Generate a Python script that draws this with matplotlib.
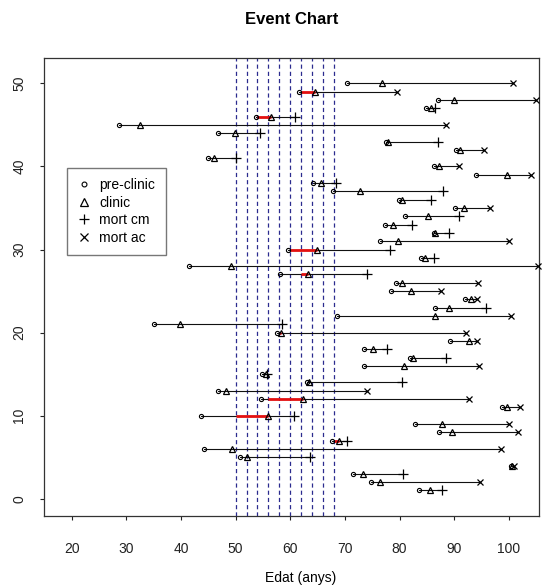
import numpy as np
import matplotlib
matplotlib.use('Agg')
import matplotlib.pyplot as plt
from matplotlib.lines import Line2D

plt.rcParams['font.family'] = ['Liberation Sans', 'DejaVu Sans']
plt.rcParams['lines.scale_dashes'] = False

# Subjects (one per row)
subject = np.arange(1, 51)

# Age at start of pre-clinic phase
pre_clinic = [83.6, 74.7, 71.4, 100.3, 50.8, 44.2, 67.7, 87.2, 82.9, 43.7,
              98.8, 54.6, 46.8, 63.0, 54.9, 73.5, 81.9, 73.5, 89.2, 57.5,
              35.0, 68.6, 86.5, 91.9, 78.5, 79.3, 58.2, 41.5, 84.0, 59.6,
              76.4, 86.2, 77.4, 81.0, 90.2, 79.9, 67.9, 64.1, 93.9, 86.3,
              45.0, 90.4, 77.5, 46.7, 28.6, 53.7, 84.9, 87.0, 61.6, 70.4]

# Age at clinical diagnosis
clinic = [85.5, 76.4, 73.3, 100.6, 52.0, 49.4, 68.9, 89.6, 87.7, 56.0,
          99.7, 62.3, 48.2, 63.5, 55.5, 80.8, 82.4, 75.1, 92.7, 58.3,
          39.8, 86.4, 89.1, 93.0, 82.1, 80.5, 63.2, 49.2, 84.6, 64.8,
          79.7, 86.4, 78.8, 85.2, 91.8, 80.5, 72.7, 65.6, 99.7, 87.2,
          46.1, 91.1, 77.9, 49.9, 32.5, 56.5, 85.8, 89.9, 64.6, 76.7]

# Age at death and cause ('cm' = cancer, 'ac' = other causes)
death = [87.8, 94.7, 80.7, 100.9, 63.6, 98.6, 70.4, 101.7, 100.0, 60.6,
         102.0, 92.7, 74.0, 80.5, 55.8, 94.5, 88.5, 77.7, 94.1, 92.1,
         58.5, 100.3, 95.8, 94.1, 87.5, 94.4, 74.1, 105.3, 86.3, 78.3,
         100.0, 89.1, 82.2, 90.9, 96.5, 85.7, 88.0, 68.4, 104.1, 90.8,
         50.1, 95.4, 87.1, 54.5, 88.5, 60.9, 86.5, 105.0, 79.6, 100.8]
cause = ['cm', 'ac', 'cm', 'ac', 'cm', 'ac', 'cm', 'ac', 'ac', 'cm',
         'ac', 'ac', 'ac', 'cm', 'cm', 'ac', 'cm', 'cm', 'ac', 'ac',
         'cm', 'ac', 'cm', 'ac', 'ac', 'ac', 'cm', 'ac', 'cm', 'cm',
         'ac', 'cm', 'cm', 'cm', 'ac', 'cm', 'cm', 'cm', 'ac', 'ac',
         'cm', 'ac', 'cm', 'cm', 'ac', 'cm', 'cm', 'ac', 'ac', 'ac']

# Missed screening intervals (red)
miss_subject = [7, 10, 12, 20, 27, 30, 46, 49]
miss_start = [68.0, 50.0, 56.0, 58.0, 62.0, 60.0, 54.0, 62.0]
miss_end = [68.9, 56.0, 62.3, 58.3, 63.2, 64.8, 56.5, 64.6]

# Screening ages
screen_ages = [50, 52, 54, 56, 58, 60, 62, 64, 66, 68]

fig = plt.figure(figsize=(5.49, 5.87), dpi=100)
ax = fig.add_axes([0.0807, 0.1215, 0.9011, 0.7795])

for a in screen_ages:
    ax.axvline(a, color='#2b2b8f', lw=0.9, dashes=(3.0, 2.2), zorder=1)

# follow-up lines
for s, p, d in zip(subject, pre_clinic, death):
    ax.plot([p, d], [s, s], color='#111111', lw=0.8, zorder=2)

for s, a, b in zip(miss_subject, miss_start, miss_end):
    ax.plot([a, b], [s, s], color='#e41010', lw=2.0, zorder=3, solid_capstyle='butt')

ax.plot(pre_clinic, subject, 'o', ms=3.0, mfc='none', mec='black', mew=0.8, zorder=4, clip_on=False)
ax.plot(clinic, subject, '^', ms=5.0, mfc='none', mec='black', mew=0.9, zorder=4, clip_on=False)
cm = [i for i, c in enumerate(cause) if c == 'cm']
acc = [i for i, c in enumerate(cause) if c == 'ac']
ax.plot([death[i] for i in cm], [subject[i] for i in cm], '+', ms=6.5, mec='black', mew=0.9,
        zorder=4, clip_on=False)
ax.plot([death[i] for i in acc], [subject[i] for i in acc], 'x', ms=5.0, mec='black', mew=0.9,
        zorder=4, clip_on=False)

ax.set_xlim(15.0, 105.5)
ax.set_ylim(-2.04, 53.04)
ax.set_xticks([20, 30, 40, 50, 60, 70, 80, 90, 100])
ax.set_yticks([0, 10, 20, 30, 40, 50])
ax.tick_params(axis='x', length=3, width=0.8, pad=16, labelsize=10, colors='#222222')
ax.tick_params(axis='y', length=3, width=0.8, pad=10, labelsize=10, colors='#222222')
for lab in ax.get_yticklabels():
    lab.set_rotation(90)
    lab.set_va('center')
for sp in ax.spines.values():
    sp.set_linewidth(0.9)
    sp.set_color('#333333')

handles = [
    Line2D([], [], ls='none', marker='o', ms=3.5, mfc='none', mec='black', mew=0.8),
    Line2D([], [], ls='none', marker='^', ms=5.5, mfc='none', mec='black', mew=0.9),
    Line2D([], [], ls='none', marker='+', ms=7, mec='black', mew=0.9),
    Line2D([], [], ls='none', marker='x', ms=5.5, mec='black', mew=0.9),
]
leg = ax.legend(handles, ['pre-clinic', 'clinic', 'mort cm', 'mort ac'],
                loc='upper left', bbox_to_anchor=(0.0453, 0.7605), borderaxespad=0,
                fontsize=10, frameon=True, fancybox=False, edgecolor='#555555',
                handlelength=1.0, handletextpad=0.6, labelspacing=0.25,
                borderpad=0.75)
leg.get_frame().set_linewidth(1.0)

fig.text(291.7 / 549, 1 - 20 / 587, 'Event Chart', ha='center', va='center',
         fontsize=12, fontweight='bold')
fig.text(301 / 549, 1 - 578 / 587, 'Edat (anys)', ha='center', va='center', fontsize=10)

fig.savefig('out.png', dpi=100)
